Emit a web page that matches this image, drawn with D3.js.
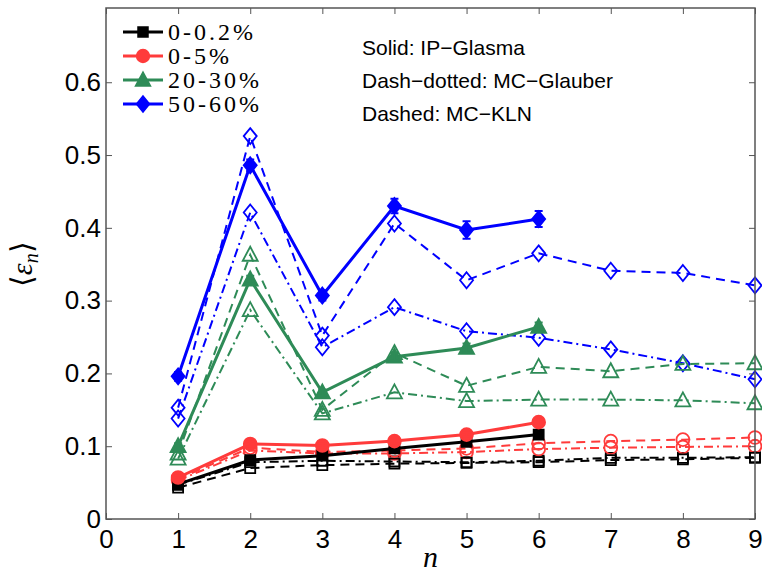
<!DOCTYPE html>
<html>
<head>
<meta charset="utf-8">
<script src="https://cdn.jsdelivr.net/npm/d3@7"></script>
<style>
  body { margin: 0; background: #fff; }
  svg { display: block; }
</style>
</head>
<body>
<svg width="762" height="573"></svg>
<script>
// Harmonic orders
const nIpGlasma = [1, 2, 3, 4, 5, 6];
const nModel = [1, 2, 3, 4, 5, 6, 7, 8, 9];

const centralities = ["0-0.2%", "0-5%", "20-30%", "50-60%"];
const xTicks = [0, 1, 2, 3, 4, 5, 6, 7, 8, 9];
const yTicks = [0, 0.1, 0.2, 0.3, 0.4, 0.5, 0.6];

// IP-Glasma (solid), with errors
const ipg_0_02 = [0.048, 0.081, 0.087, 0.097, 0.106, 0.116];
const ipg_0_5 = [0.057, 0.103, 0.101, 0.107, 0.116, 0.133];
const ipg_20_30 = [0.100, 0.329, 0.174, 0.223, 0.235, 0.264];
const ipg_50_60 = [0.196, 0.486, 0.307, 0.430, 0.397, 0.412];
const ipgErr_0_02 = [0.003, 0.003, 0.003, 0.003, 0.003, 0.004];
const ipgErr_0_5 = [0.003, 0.003, 0.003, 0.003, 0.003, 0.004];
const ipgErr_20_30 = [0.004, 0.005, 0.004, 0.005, 0.006, 0.006];
const ipgErr_50_60 = [0.006, 0.008, 0.007, 0.010, 0.012, 0.011];

// MC-Glauber (dash-dotted)
const glb_0_02 = [0.047, 0.078, 0.080, 0.079, 0.078, 0.080, 0.084, 0.084, 0.085];
const glb_0_5 = [0.053, 0.094, 0.090, 0.090, 0.092, 0.096, 0.098, 0.099, 0.100];
const glb_20_30 = [0.083, 0.287, 0.145, 0.174, 0.162, 0.164, 0.164, 0.163, 0.159];
const glb_50_60 = [0.138, 0.421, 0.236, 0.291, 0.258, 0.249, 0.233, 0.214, 0.192];

// MC-KLN (dashed)
const kln_0_02 = [0.043, 0.070, 0.074, 0.076, 0.077, 0.078, 0.081, 0.082, 0.084];
const kln_0_5 = [0.055, 0.098, 0.092, 0.094, 0.097, 0.104, 0.107, 0.109, 0.112];
const kln_20_30 = [0.090, 0.363, 0.150, 0.228, 0.183, 0.209, 0.203, 0.213, 0.214];
const kln_50_60 = [0.153, 0.526, 0.252, 0.406, 0.328, 0.365, 0.341, 0.338, 0.321];

const colors = ["#000000", "#ff3b3b", "#2e8b57", "#0000ff"];
const shapes = ["square", "circle", "triangle", "diamond"];

const ipg = [ipg_0_02, ipg_0_5, ipg_20_30, ipg_50_60];
const ipgErr = [ipgErr_0_02, ipgErr_0_5, ipgErr_20_30, ipgErr_50_60];
const glb = [glb_0_02, glb_0_5, glb_20_30, glb_50_60];
const kln = [kln_0_02, kln_0_5, kln_20_30, kln_50_60];

const margin = { top: 8, right: 7, bottom: 54, left: 106 },
      width = 762 - margin.left - margin.right,
      height = 573 - margin.top - margin.bottom;

const svg = d3.select("svg")
  .append("g")
  .attr("transform", `translate(${margin.left},${margin.top})`);

const x = d3.scaleLinear().domain([0, 9]).range([0, width]);
const y = d3.scaleLinear().domain([0, 0.702]).range([height, 0]);

const serif = "'Liberation Serif', 'Times New Roman', serif";
const sans = "'Liberation Sans', Arial, sans-serif";

// marker shapes in local coords
function markerPath(shape) {
  if (shape === "square") return "M-5,-5H5V5H-5Z";
  if (shape === "circle") return d3.symbol(d3.symbolCircle, 130)();
  if (shape === "triangle") return "M0,-8L7.5,6H-7.5Z";
  return "M0,-8L6.5,0L0,8L-6.5,0Z";
}

const line = d3.line().x(d => x(d[0])).y(d => y(d[1]));

function drawSeries(ns, vals, i, style) {
  const pts = ns.map((n, k) => [n, vals[k]]);
  const g = svg.append("g");
  const dash = style === "dashed" ? "9,6" : style === "dashdot" ? "9,4,2,4" : null;
  g.append("path")
    .datum(pts)
    .attr("d", line)
    .attr("fill", "none")
    .attr("stroke", colors[i])
    .attr("stroke-width", style === "solid" ? 3 : 2)
    .attr("stroke-dasharray", dash);
  g.selectAll(".m")
    .data(pts)
    .enter()
    .append("path")
    .attr("transform", d => `translate(${x(d[0])},${y(d[1])})`)
    .attr("d", markerPath(shapes[i]))
    .attr("fill", style === "solid" ? colors[i] : "none")
    .attr("stroke", colors[i])
    .attr("stroke-width", 1.8);
  return g;
}

// models first, then IP-Glasma on top
[0, 1, 2, 3].forEach(i => drawSeries(nModel, glb[i], i, "dashdot"));
[0, 1, 2, 3].forEach(i => drawSeries(nModel, kln[i], i, "dashed"));
[0, 1, 2, 3].forEach(i => {
  const g = drawSeries(nIpGlasma, ipg[i], i, "solid");
  nIpGlasma.forEach((n, k) => {
    const v = ipg[i][k], e = ipgErr[i][k];
    g.append("path")
      .attr("d", `M${x(n)},${y(v - e)}V${y(v + e)}M${x(n) - 4},${y(v - e)}H${x(n) + 4}M${x(n) - 4},${y(v + e)}H${x(n) + 4}`)
      .attr("stroke", colors[i])
      .attr("stroke-width", 2)
      .attr("fill", "none");
  });
});

// axes frame
const axisColor = "#555";
svg.append("rect")
  .attr("width", width).attr("height", height)
  .attr("fill", "none").attr("stroke", axisColor).attr("stroke-width", 1.5);

const xAxis = svg.append("g")
  .attr("transform", `translate(0,${height})`)
  .call(d3.axisBottom(x).tickValues(xTicks).tickSize(-6).tickPadding(11).tickFormat(d3.format("d")));
const xTop = svg.append("g")
  .call(d3.axisTop(x).tickValues(xTicks).tickSize(-6).tickFormat(""));
const yAxis = svg.append("g")
  .call(d3.axisLeft(y).tickValues(yTicks).tickSize(-6).tickPadding(5).tickFormat(d => d === 0 ? "0" : d3.format(".1f")(d)));
const yRight = svg.append("g")
  .attr("transform", `translate(${width},0)`)
  .call(d3.axisRight(y).tickValues(yTicks).tickSize(-6).tickFormat(""));

[xAxis, xTop, yAxis, yRight].forEach(a => {
  a.select(".domain").remove();
  a.selectAll("line").attr("stroke", axisColor).attr("stroke-width", 1);
  a.selectAll("text")
    .attr("fill", "#000")
    .style("font-family", sans)
    .style("font-size", "26px");
});
xAxis.selectAll("text").attr("dy", "0.71em");

// axis labels
svg.append("text")
  .attr("x", x(4.5))
  .attr("y", height + 48)
  .attr("text-anchor", "middle")
  .style("font-family", serif)
  .style("font-style", "italic")
  .style("font-size", "30px")
  .text("n");

const yl = svg.append("text")
  .attr("transform", `translate(${-74},${y(0.35)}) rotate(-90)`)
  .attr("text-anchor", "middle")
  .style("font-family", serif)
  .style("font-size", "30px");
yl.append("tspan").text("\u27E8");
yl.append("tspan").style("font-style", "italic").text("\u03B5");
yl.append("tspan").attr("dy", 6).style("font-style", "italic").style("font-size", "20px").text("n");
yl.append("tspan").attr("dy", -6).text("\u27E9");

// legend
const legend = svg.append("g").attr("transform", "translate(17,24)");
centralities.forEach((c, i) => {
  const row = legend.append("g").attr("transform", `translate(0,${i * 24})`);
  row.append("line")
    .attr("x1", 0).attr("x2", 40)
    .attr("stroke", colors[i]).attr("stroke-width", 3);
  row.append("path")
    .attr("transform", "translate(20,0)")
    .attr("d", markerPath(shapes[i]))
    .attr("fill", colors[i]).attr("stroke", colors[i]).attr("stroke-width", 1.5);
  row.append("text")
    .attr("x", 45).attr("y", 8)
    .style("font-family", serif)
    .style("font-size", "24px")
    .style("letter-spacing", "3px")
    .text(c);
});

// model annotation
const notes = ["Solid: IP\u2212Glasma", "Dash\u2212dotted: MC\u2212Glauber", "Dashed: MC\u2212KLN"];
notes.forEach((t, i) => {
  svg.append("text")
    .attr("x", 256)
    .attr("y", 47 + i * 33)
    .style("font-family", sans)
    .style("font-size", "21px")
    .text(t);
});
</script>
</body>
</html>
